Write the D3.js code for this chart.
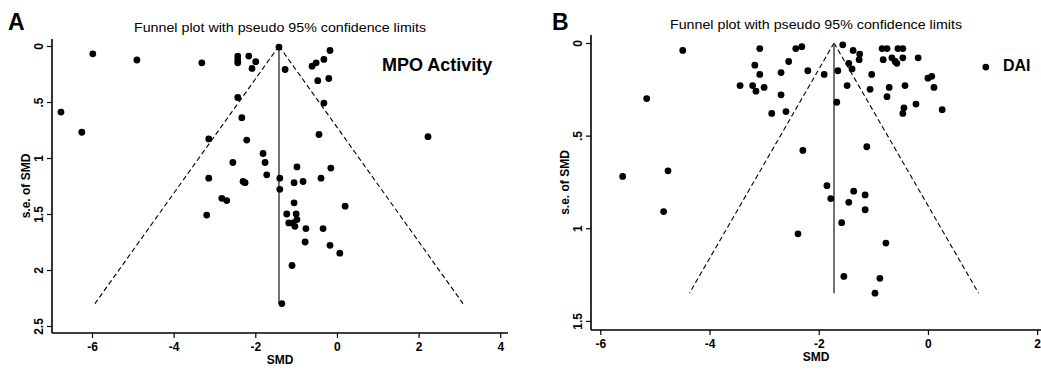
<!DOCTYPE html>
<html>
<head>
<meta charset="utf-8">
<script src="https://cdn.jsdelivr.net/npm/d3@7"></script>
<style>
    body { margin: 0; background: #fff; }
    svg { display: block; font-family: "Liberation Sans", Arial, sans-serif; }
    .domain { display: none; }
</style>
</head>
<body>
<svg id="funnel" width="1041" height="375"></svg>
<script>
// PANEL A - MPO activity (SMD, s.e. of SMD)
const smdA = [-6.76, -6.25, -5.98, -4.90, -3.31, -2.43, -2.43, -2.43, -2.16, -1.99,
    -2.08, -1.42, -1.27, -0.61, -0.51, -0.32, -0.17, -0.47, -0.20, -2.43,
    -0.32, -2.33, -0.44, -3.14, -2.21, -1.81, -2.55, -1.76, -0.98, -0.15,
    -3.14, -2.30, -2.25, -1.72, -1.40, -1.05, -0.83, -0.39, -1.40, -2.82,
    -2.70, -3.19, -1.05, 0.20, -1.23, -1.00, -0.98, -1.18, -1.03, -1.08,
    -0.76, -0.34, -0.78, -0.17, 0.07, -1.10, -1.35, 2.23];
const seA = [0.59, 0.77, 0.07, 0.125, 0.15, 0.09, 0.125, 0.15, 0.09, 0.14,
    0.20, 0.01, 0.21, 0.18, 0.15, 0.12, 0.04, 0.31, 0.29, 0.46,
    0.51, 0.64, 0.79, 0.83, 0.84, 0.96, 1.04, 1.04, 1.08, 1.09,
    1.18, 1.21, 1.22, 1.15, 1.18, 1.22, 1.21, 1.18, 1.28, 1.36,
    1.38, 1.51, 1.40, 1.43, 1.50, 1.50, 1.55, 1.58, 1.61, 1.58,
    1.63, 1.63, 1.75, 1.78, 1.85, 1.96, 2.30, 0.81];
const pooledA = -1.42;
const seMaxA = 2.30;
const xTicksA = [-6, -4, -2, 0, 2, 4];
const yTicksA = [0, 0.5, 1, 1.5, 2, 2.5];
const yTickLabelsA = ['0', '.5', '1', '1.5', '2', '2.5'];

// PANEL B - DAI
const smdB = [-4.49, -5.15, -5.59, -4.76, -4.84, -3.08, -3.17, -3.08, -3.44, -3.21,
    -3.15, -3.00, -2.86, -2.69, -2.55, -2.42, -2.31, -2.20, -2.69, -2.60,
    -1.56, -1.37, -1.25, -1.26, -1.45, -1.39, -1.90, -1.65, -1.48, -1.67,
    -1.03, -1.06, -0.84, -0.75, -0.82, -0.66, -0.60, -0.57, -0.55, -0.46,
    -0.46, -0.18, -0.71, -0.75, -0.42, -0.44, -0.46, -0.22, 0.00, 0.07,
    0.11, 0.26, 1.06, -2.29, -1.12, -1.85, -1.78, -1.36, -1.15, -1.45,
    -1.15, -1.58, -2.38, -0.77, -1.54, -0.88, -0.97];
const seB = [0.04, 0.30, 0.72, 0.69, 0.91, 0.03, 0.12, 0.17, 0.23, 0.23,
    0.26, 0.24, 0.38, 0.16, 0.10, 0.03, 0.02, 0.15, 0.28, 0.37,
    0.01, 0.04, 0.06, 0.09, 0.11, 0.14, 0.17, 0.15, 0.23, 0.32,
    0.17, 0.25, 0.03, 0.03, 0.09, 0.08, 0.10, 0.11, 0.03, 0.03,
    0.08, 0.08, 0.24, 0.29, 0.23, 0.35, 0.38, 0.33, 0.19, 0.18,
    0.24, 0.36, 0.13, 0.58, 0.56, 0.77, 0.84, 0.80, 0.82, 0.86,
    0.90, 0.97, 1.03, 1.08, 1.26, 1.27, 1.35];
const pooledB = -1.72;
const seMaxB = 1.35;
const xTicksB = [-6, -4, -2, 0, 2];
const yTicksB = [0, 0.5, 1, 1.5];
const yTickLabelsB = ['0', '.5', '1', '1.5'];

const titleText = 'Funnel plot with pseudo 95% confidence limits';

const svg = d3.select('#funnel');

function drawPanel(p) {
    const g = svg.append('g');

    // SCALES
    const xScale = d3.scaleLinear().domain(p.xDomain).range([p.left, p.right]);
    const yScale = d3.scaleLinear().domain(p.yDomain).range([p.top, p.bottom]);

    // X AXIS
    const xAxis = g.append('g')
        .attr('transform', `translate(0, ${p.bottom})`)
        .call(d3.axisBottom(xScale).tickValues(p.xTicks).tickSize(5).tickSizeOuter(0).tickFormat(d => d));
    xAxis.selectAll('.tick line').attr('stroke-width', 1.2);
    xAxis.selectAll('.tick text')
        .attr('y', 9)
        .attr('fill', '#000')
        .style('font-size', '12px')
        .style('font-weight', 'bold');

    // Y AXIS (labels rotated, stata style)
    const yAxis = g.append('g')
        .attr('transform', `translate(${p.left}, 0)`)
        .call(d3.axisLeft(yScale).tickValues(p.yTicks).tickSize(5).tickSizeOuter(0)
            .tickFormat((d, i) => p.yTickLabels[i]));
    yAxis.selectAll('.tick line').attr('stroke-width', 1.2);
    yAxis.selectAll('.tick text')
        .attr('transform', 'rotate(-90)')
        .attr('x', 0)
        .attr('y', -9)
        .attr('dy', 0)
        .attr('text-anchor', 'middle')
        .attr('fill', '#000')
        .style('font-size', '12px')
        .style('font-weight', 'bold');

    // axis lines
    g.append('line')
        .attr('x1', p.left).attr('x2', p.right)
        .attr('y1', p.bottom).attr('y2', p.bottom)
        .attr('stroke', '#000').attr('stroke-width', 1.6);
    g.append('line')
        .attr('x1', p.left).attr('x2', p.left)
        .attr('y1', p.top).attr('y2', p.bottom)
        .attr('stroke', '#000').attr('stroke-width', 1.6);

    // pseudo 95% limits
    const limits = [
        [[p.pooled, 0], [p.pooled - 1.96 * p.seMax, p.seMax]],
        [[p.pooled, 0], [p.pooled + 1.96 * p.seMax, p.seMax]]
    ];
    const line = d3.line().x(d => xScale(d[0])).y(d => yScale(d[1]));
    g.selectAll('.limit')
        .data(limits)
        .enter()
        .append('path')
        .attr('class', 'limit')
        .attr('d', line)
        .attr('fill', 'none')
        .attr('stroke', '#000')
        .attr('stroke-width', 1.1)
        .attr('stroke-dasharray', '5,3');

    // pooled estimate
    g.append('line')
        .attr('x1', xScale(p.pooled)).attr('x2', xScale(p.pooled))
        .attr('y1', yScale(0)).attr('y2', yScale(p.seMax))
        .attr('stroke', '#444')
        .attr('stroke-width', 1.5);

    // POINTS
    g.selectAll('circle')
        .data(p.smd.map((d, i) => ({ smd: d, se: p.se[i] })))
        .enter()
        .append('circle')
        .attr('cx', d => xScale(d.smd))
        .attr('cy', d => yScale(d.se))
        .attr('r', 3.4)
        .attr('fill', '#000');

    // TEXT
    g.append('text')
        .attr('x', (p.left + p.right) / 2)
        .attr('y', p.titleY)
        .attr('text-anchor', 'middle')
        .attr('textLength', 292)
        .attr('lengthAdjust', 'spacingAndGlyphs')
        .style('font-size', '13px')
        .text(titleText);

    g.append('text')
        .attr('x', p.letterX)
        .attr('y', 30)
        .style('font-size', '23px')
        .style('font-weight', 'bold')
        .text(p.letter);

    g.append('text')
        .attr('x', p.tagX)
        .attr('y', 71)
        .style('font-size', p.tagSize)
        .style('font-weight', 'bold')
        .text(p.tag);

    g.append('text')
        .attr('x', (p.left + p.right) / 2)
        .attr('y', p.bottom + 31)
        .attr('text-anchor', 'middle')
        .style('font-size', '12px')
        .style('font-weight', 'bold')
        .text('SMD');

    g.append('text')
        .attr('transform', `translate(${p.left - 22}, ${(p.top + p.bottom) / 2}) rotate(-90)`)
        .attr('text-anchor', 'middle')
        .style('font-size', '12px')
        .style('font-weight', 'bold')
        .text('s.e. of SMD');
}

drawPanel({
    smd: smdA, se: seA, pooled: pooledA, seMax: seMaxA,
    xTicks: xTicksA, yTicks: yTicksA, yTickLabels: yTickLabelsA,
    xDomain: [-6.98, 4.19], yDomain: [-0.0625, 2.5625],
    left: 52, right: 508, top: 39, bottom: 333,
    titleY: 32, letter: 'A', letterX: 8, tag: 'MPO Activity', tagX: 382, tagSize: '18px'
});

drawPanel({
    smd: smdB, se: seB, pooled: pooledB, seMax: seMaxB,
    xTicks: xTicksB, yTicks: yTicksB, yTickLabels: yTickLabelsB,
    xDomain: [-6.17, 2.07], yDomain: [-0.043, 1.549],
    left: 591, right: 1041, top: 35, bottom: 330,
    titleY: 29, letter: 'B', letterX: 552, tag: 'DAI', tagX: 1003, tagSize: '16px'
});
</script>
</body>
</html>
